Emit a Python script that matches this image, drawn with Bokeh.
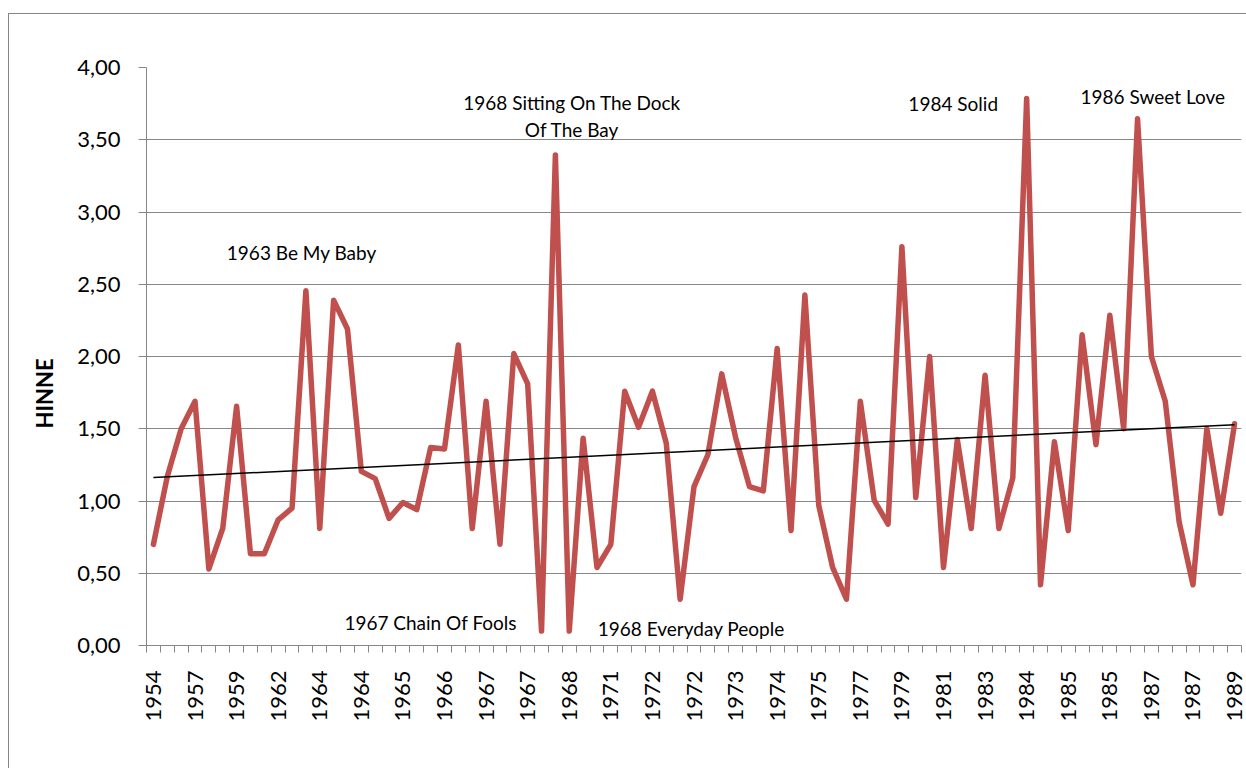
import numpy as np
from bokeh.plotting import figure
from bokeh.models import FixedTicker, CustomJSTickFormatter, Label, Range1d, Title
from bokeh.embed import file_html
from bokeh.resources import INLINE

# ---- data ----
years = [1954, 1955, 1956, 1957, 1958, 1958, 1959, 1960, 1961, 1962,
         1963, 1963, 1964, 1964, 1964, 1964, 1965, 1965, 1965, 1966,
         1966, 1966, 1966, 1967, 1967, 1967, 1967, 1967, 1967, 1968,
         1968, 1969, 1970, 1971, 1971, 1972, 1972, 1972, 1972, 1972,
         1973, 1973, 1973, 1973, 1974, 1974, 1974, 1975, 1975, 1976,
         1976, 1977, 1978, 1978, 1979, 1980, 1980, 1981, 1982, 1982,
         1983, 1983, 1983, 1984, 1984, 1985, 1985, 1985, 1985, 1985,
         1986, 1986, 1987, 1987, 1987, 1987, 1988, 1988, 1989]
hinne = [0.70, 1.17, 1.50, 1.69, 0.53, 0.81, 1.655, 0.635, 0.635, 0.87,
         0.95, 2.455, 0.81, 2.39, 2.19, 1.205, 1.155, 0.88, 0.99, 0.94,
         1.37, 1.36, 2.08, 0.81, 1.69, 0.70, 2.02, 1.81, 0.10, 3.395,
         0.10, 1.435, 0.54, 0.70, 1.76, 1.51, 1.76, 1.40, 0.32, 1.10,
         1.32, 1.88, 1.44, 1.10, 1.07, 2.055, 0.795, 2.425, 0.97, 0.54,
         0.32, 1.69, 1.005, 0.84, 2.76, 1.025, 2.00, 0.54, 1.425, 0.81,
         1.87, 0.81, 1.16, 3.785, 0.42, 1.41, 0.795, 2.15, 1.39, 2.285,
         1.50, 3.645, 2.00, 1.69, 0.855, 0.42, 1.50, 0.915, 1.535]
y_ticks = [0.0, 0.5, 1.0, 1.5, 2.0, 2.5, 3.0, 3.5, 4.0]
# annotations: (text, category index, value)
notes = [("1963 Be My Baby", 10.7, 2.72),
         ("1968 Sitting On The Dock", 30.2, 3.76),
         ("Of The Bay", 30.2, 3.57),
         ("1984 Solid", 57.7, 3.75),
         ("1986 Sweet Love", 72.1, 3.80),
         ("1967 Chain Of Fools", 20.0, 0.16),
         ("1968 Everyday People", 38.8, 0.12)]

n = len(hinne)
xs = list(range(n))
label_map = [str(y) for y in years]

FONT = "Lato"
GRID = "#878787"

p = figure(width=1238, height=755, output_backend="svg", toolbar_location=None,
           x_range=Range1d(-0.5, n - 0.5), y_range=Range1d(0, 4),
           min_border_left=137, min_border_top=53, min_border_bottom=124,
           min_border_right=6)
p.margin = (13, 0, 0, 8)
p.styles = {"border-top": "1px solid #868686", "border-left": "1px solid #868686"}
p.outline_line_color = None
p.background_fill_color = "white"
p.border_fill_color = "white"

# grid
p.xgrid.grid_line_color = None
p.ygrid.grid_line_color = GRID
p.ygrid.grid_line_width = 1

# y axis
p.yaxis.ticker = FixedTicker(ticks=y_ticks, minor_ticks=[])
p.yaxis.formatter = CustomJSTickFormatter(code="return tick.toFixed(2).replace('.', ',');")
p.yaxis.axis_line_color = GRID
p.yaxis.major_tick_line_color = GRID
p.yaxis.major_tick_out = 8
p.yaxis.major_tick_in = 0
p.yaxis.minor_tick_line_color = None
p.yaxis.major_label_text_font = FONT
p.yaxis.major_label_text_font_size = "22px"
p.yaxis.major_label_text_color = "black"
p.yaxis.major_label_standoff = 18

# y axis title as a side title (lets it sit lower than the frame centre)
p.add_layout(Title(text="HINNE", align="left", offset=217, standoff=33,
                   text_font=FONT, text_font_size="22px", text_font_style="bold",
                   text_color="black"), "left")

# x axis
p.xaxis.ticker = FixedTicker(ticks=list(range(0, n, 3)),
                             minor_ticks=[i - 0.5 for i in range(n + 1)])
p.xaxis.formatter = CustomJSTickFormatter(args=dict(labels=label_map),
                                          code="return labels[Math.round(tick)];")
p.xaxis.axis_line_color = GRID
p.xaxis.major_tick_line_color = None
p.xaxis.major_tick_out = 0
p.xaxis.major_tick_in = 0
p.xaxis.minor_tick_line_color = GRID
p.xaxis.minor_tick_out = 7
p.xaxis.minor_tick_in = 0
p.xaxis.major_label_orientation = np.pi / 2
p.xaxis.major_label_text_font = FONT
p.xaxis.major_label_text_font_size = "22px"
p.xaxis.major_label_text_color = "black"
p.xaxis.major_label_standoff = 18

# series
p.line(xs, hinne, line_color="#C0504D", line_width=5.5, line_join="round", line_cap="round")

# linear trend
k, b = np.polyfit(xs, hinne, 1)
p.line([0, n - 1], [b, k * (n - 1) + b], line_color="black", line_width=1.5)

# annotations
for txt, xi, yv in notes:
    p.add_layout(Label(x=xi, y=yv, text=txt, text_align="center", text_baseline="middle",
                       text_font=FONT, text_font_size="19px", text_color="black"))

open("out.html", "w").write(file_html(p, INLINE))
